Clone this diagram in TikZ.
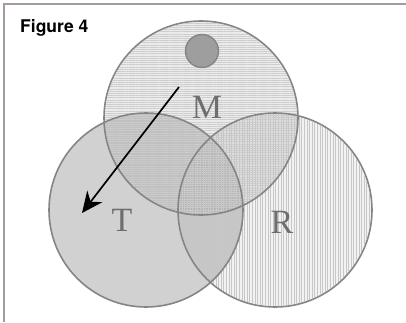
\documentclass[tikz,border=0pt]{standalone}
\usepackage{fontspec}
\newfontfamily\headfont{TeX Gyre Heros}
\newfontfamily\labfont{Liberation Serif}
\usetikzlibrary{patterns.meta,arrows.meta}
\definecolor{frame}{HTML}{A39C9A}
\definecolor{ring}{HTML}{858585}
\definecolor{lbl}{HTML}{6E6E6E}
\tikzset{
  setc/.style={circle, minimum size=194pt, inner sep=0pt, draw=ring, line width=1.6pt},
  lab/.style={text=lbl, font=\labfont\fontsize{34}{34}\selectfont},
}
\begin{document}
\begin{tikzpicture}[x=1pt,y=1pt]
\useasboundingbox (0,0) rectangle (406,322);
\fill[white] (0,0) rectangle (406,322);
% frame
\coordinate (f1) at (4,0);
\coordinate (f2) at (4,318);
\coordinate (f3) at (406,318);
\draw[frame, line width=1.5pt] (f1) -- (f2) -- (f3);
% fills
\fill[black, fill opacity=0.18] (146,112) circle (97);
\fill[black, fill opacity=0.08] (201,204) circle (96);
\fill[black, fill opacity=0.05] (275,112) circle (96);
\fill[pattern={Lines[angle=0,distance=2.2pt,line width=0.5pt]}, pattern color=black!20] (201,204) circle (96);
\fill[pattern={Lines[angle=90,distance=2.6pt,line width=0.6pt]}, pattern color=black!22] (275,112) circle (96);
% outlines
\node[setc] (T) at (146,112) {};
\node[setc] (R) at (275,112) {};
\node[setc] (M) at (201,204) {};
\node[circle, minimum size=33pt, inner sep=0pt, draw=ring, line width=1.4pt, fill=black!38] (dot) at (202,271) {};
% labels
\node[lab] (lM) at (207,215) {M};
\node[lab] (lT) at (122,102) {T};
\node[lab] (lR) at (282,100) {R};
% arrow
\coordinate (a1) at (179,235);
\coordinate (a2) at (82,109);
\draw[line width=1.7pt, -{Stealth[length=21pt,width=19pt]}] (a1) -- (a2);
% title
\node[anchor=base west, inner sep=0pt, font=\headfont\bfseries\fontsize{17.5}{17.5}\selectfont] (title) at (20,289) {Figure 4};
\end{tikzpicture}
\end{document}
